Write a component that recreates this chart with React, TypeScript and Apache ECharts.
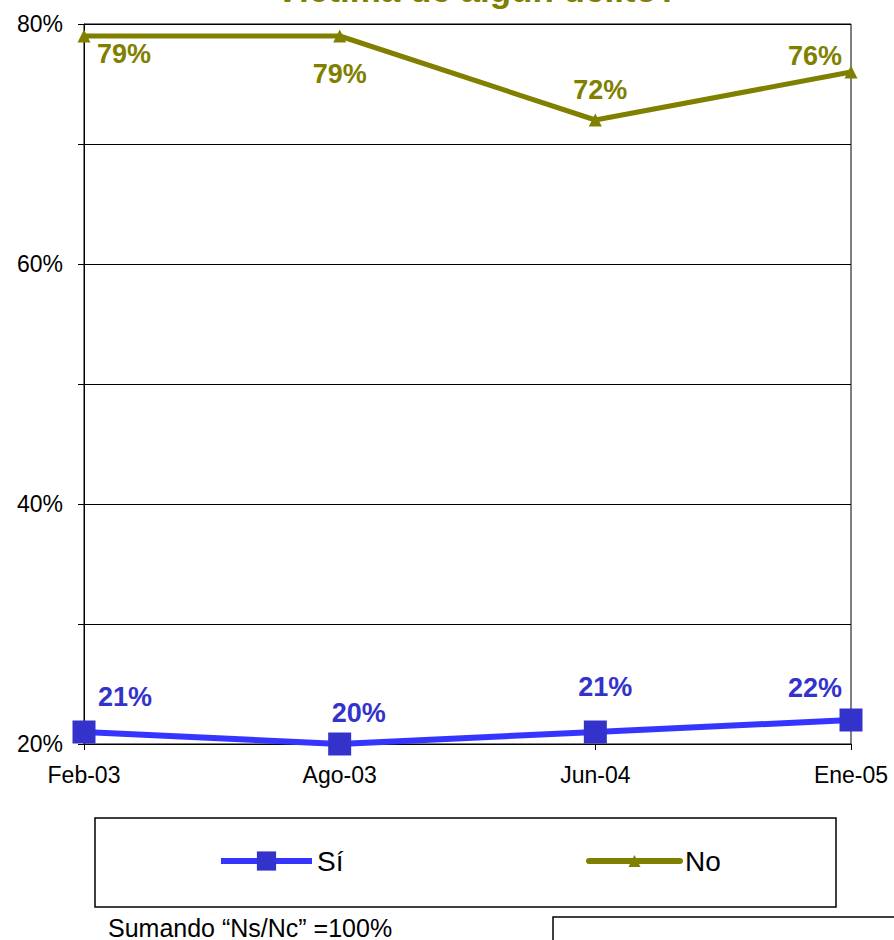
import React, { useEffect, useRef } from "react";
import * as echarts from "echarts";

const categories = ["Feb-03", "Ago-03", "Jun-04", "Ene-05"];
const siValues = [21, 20, 21, 22];
const noValues = [79, 79, 72, 76];
const seriesNames = ["Sí", "No"];
const titleText = "Víctima de algún delito?";
const noteText = "Sumando \u201cNs/Nc\u201d =100%";
const yMin = 20;
const yMax = 80;
const yInterval = 10;

// label placement offsets (style only)
const siLabelOffsets = [[41, -35], [19, -31], [10, -45], [-36, -32]];
const noLabelOffsets = [[40, 18], [0, 38], [5, -30], [-36, -16]];

const FONT = "'Liberation Sans', Arial, sans-serif";
const OLIVE = "#808000";
const BLUE_LINE = "#3535FF";
const BLUE_MARK = "#3333CC";

export default function App() {
  const ref = useRef<HTMLDivElement>(null);
  useEffect(() => {
    document.body.style.margin = "0";
    if (!ref.current) return;
    const chart = echarts.init(ref.current, undefined, { renderer: "svg" });
    const mkData = (vals: number[], offs: number[][]) =>
      vals.map((v, i) => ({ value: v, label: { offset: offs[i] } }));
    chart.setOption({
      animation: false,
      backgroundColor: "#ffffff",
      textStyle: { fontFamily: FONT },
      grid: {
        left: 84,
        right: 43,
        top: 24,
        bottom: 196,
        show: true,
        borderColor: "#000",
        borderWidth: 1,
        containLabel: false,
      },
      xAxis: {
        type: "category",
        data: categories,
        boundaryGap: false,
        axisLine: { lineStyle: { color: "#000", width: 1 } },
        axisTick: { show: true, length: 6, lineStyle: { color: "#000" } },
        axisLabel: { color: "#000", fontSize: 23, fontFamily: FONT, margin: 19 },
        splitLine: { show: false },
      },
      yAxis: {
        type: "value",
        min: yMin,
        max: yMax,
        interval: yInterval,
        axisLine: { show: true, lineStyle: { color: "#000", width: 1 } },
        axisTick: { show: true, length: 6, lineStyle: { color: "#000" } },
        axisLabel: {
          color: "#000",
          fontSize: 23,
          fontFamily: FONT,
          margin: 21,
          formatter: (v: number) => (v % 20 === 0 ? v + "%" : ""),
        },
        splitLine: { show: true, lineStyle: { color: "#000", width: 1 } },
      },
      legend: [
        {
          data: [seriesNames[0]],
          left: 218,
          top: 847,
          padding: 0,
          itemWidth: 91,
          itemHeight: 24,
          itemGap: 5,
          lineStyle: { width: 6 },
          textStyle: { fontSize: 28, color: "#000", fontFamily: FONT },
        },
        {
          data: [seriesNames[1]],
          left: 586,
          top: 847,
          padding: 0,
          itemWidth: 91,
          itemHeight: 15,
          itemGap: 5,
          lineStyle: { width: 6, cap: "round" },
          textStyle: { fontSize: 28, color: "#000", fontFamily: FONT },
        },
      ],
      graphic: [
        {
          type: "text",
          x: 477,
          y: -11,
          style: {
            text: titleText,
            fill: OLIVE,
            fontSize: 35,
            fontWeight: "bold",
            fontFamily: FONT,
            textAlign: "center",
            textVerticalAlign: "middle",
          },
        },
        {
          type: "rect",
          shape: { x: 95, y: 818, width: 741, height: 89 },
          style: { fill: "none", stroke: "#000", lineWidth: 1.5 },
        },
        {
          type: "rect",
          shape: { x: 553, y: 917, width: 400, height: 100 },
          style: { fill: "none", stroke: "#000", lineWidth: 1.5 },
        },
        {
          type: "text",
          x: 108,
          y: 928,
          style: {
            text: noteText,
            fill: "#000",
            fontSize: 25,
            fontFamily: FONT,
            textAlign: "left",
            textVerticalAlign: "middle",
          },
        },
      ],
      series: [
        {
          name: seriesNames[0],
          type: "line",
          data: mkData(siValues, siLabelOffsets),
          symbol: "rect",
          symbolSize: 23,
          itemStyle: { color: BLUE_MARK },
          lineStyle: { color: BLUE_LINE, width: 6 },
          label: {
            show: true,
            position: "inside",
            formatter: "{c}%",
            color: BLUE_MARK,
            fontSize: 27,
            fontWeight: "bold",
            fontFamily: FONT,
          },
          z: 3,
        },
        {
          name: seriesNames[1],
          type: "line",
          data: mkData(noValues, noLabelOffsets),
          symbol: "triangle",
          symbolSize: 13,
          itemStyle: { color: OLIVE },
          lineStyle: { color: OLIVE, width: 5 },
          label: {
            show: true,
            position: "inside",
            formatter: "{c}%",
            color: OLIVE,
            fontSize: 27,
            fontWeight: "bold",
            fontFamily: FONT,
          },
          z: 3,
        },
      ],
    });
    return () => chart.dispose();
  }, []);
  return <div ref={ref} style={{ width: 894, height: 940 }} />;
}
